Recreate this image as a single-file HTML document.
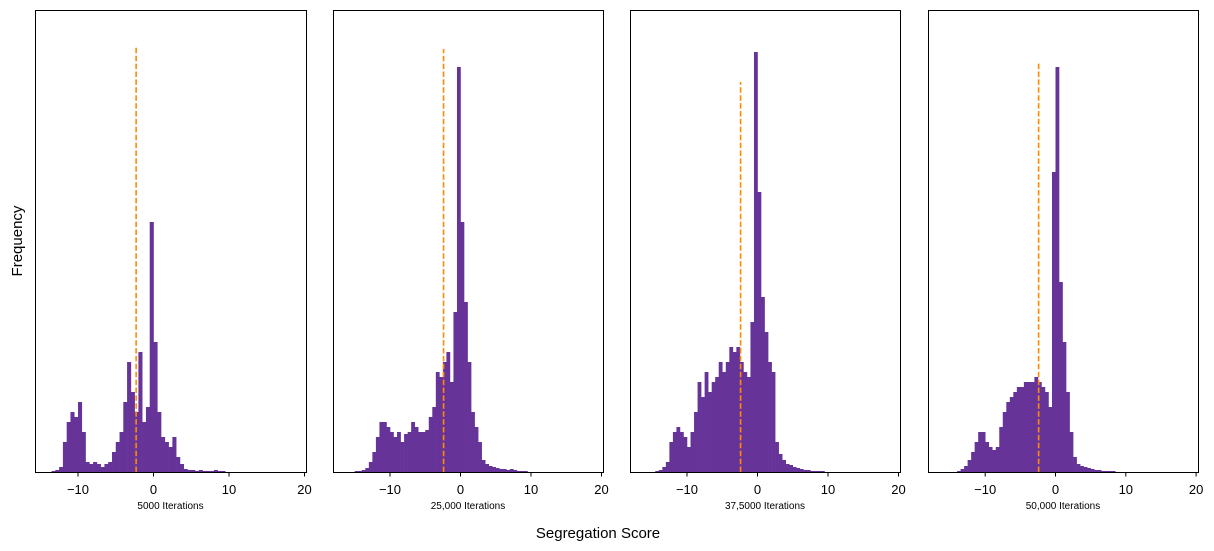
<!DOCTYPE html>
<html><head><meta charset="utf-8"><style>
body{margin:0;background:#fff;}
svg{display:block;font-family:"Liberation Sans","DejaVu Sans",sans-serif;}
</style></head><body>
<svg id="chart" width="1214" height="551" viewBox="0 0 1214 551">
<text x="22" y="241" font-size="15" text-anchor="middle" transform="rotate(-90 22 241)">Frequency</text>
<text x="598" y="538" font-size="15" text-anchor="middle">Segregation Score</text>
</svg>
<script>
const binStart = -15;
const binWidth = 0.5;
const counts5000 = [0,0,0,1,2,5,30,50,60,55,70,40,10,8,10,8,5,8,10,20,30,40,70,110,80,60,120,50,65,250,130,60,35,30,25,35,15,8,3,2,2,1,2,1,1,1,2,1,1,0];
const counts25000 = [1,1,2,4,10,20,35,50,50,45,40,35,40,30,38,40,50,45,40,40,42,55,65,100,95,110,120,90,160,405,250,170,110,60,45,30,12,8,6,5,4,3,3,2,3,2,1,1,1,0];
const counts37500 = [0,1,2,5,10,30,40,45,40,35,25,40,60,90,75,100,80,90,95,110,100,110,125,120,125,110,100,95,150,420,280,175,140,110,100,30,18,12,8,7,5,4,3,2,2,1,1,1,1,0];
const counts50000 = [0,0,1,3,6,12,20,30,40,40,30,25,22,25,45,60,70,75,80,85,85,90,90,90,95,90,85,80,65,300,405,190,130,80,40,15,8,6,5,4,3,2,2,1,1,1,1,0,0,0];
const meanLines = [-2.3, -2.4, -2.4, -2.4];
const meanHeights = [426, 423, 390, 410];
const panelLabels = ["5000 Iterations","25,000 Iterations","37,5000 Iterations","50,000 Iterations"];
const tickValues = [-10, 0, 10, 20];
const tickLabels = ["\u221210","0","10","20"];
const allCounts = [counts5000, counts25000, counts37500, counts50000];

const layout = [
  {left:35,right:306,zero:153.5,scale:7.55},
  {left:333,right:603,zero:460.5,scale:7.05},
  {left:630,right:900,zero:757.5,scale:7.05},
  {left:928,right:1198,zero:1055.5,scale:7.03}
];
const plotTop = 10, plotBase = 472;
const NS = "http://www.w3.org/2000/svg";
const svgEl = document.getElementById('chart');
function mk(tag, attrs){const e=document.createElementNS(NS,tag);for(const k in attrs)e.setAttribute(k,attrs[k]);return e;}

layout.forEach((L, p) => {
  const g = mk('g', {});
  
  
  svgEl.appendChild(g);
  const xs = v => L.zero + v * L.scale;
  const ys = c => plotBase - c;
  const counts = allCounts[p];
  counts.forEach((c, i) => {
    if (c <= 0) return;
    const x0 = xs(binStart + i * binWidth), x1 = xs(binStart + (i+1) * binWidth);
    const r = mk('rect', {x:x0, y:ys(c), width:x1-x0+0.3, height:c, fill:'#663399'});
    
    
    g.appendChild(r);
  });
  const mx = xs(meanLines[p]);
  const ml = mk('line', {x1:mx, x2:mx, y1:plotBase, y2:plotBase-meanHeights[p], stroke:'#ff8c00', 'stroke-width':1.6, 'stroke-dasharray':'5.5,2.4'});
  
  
  g.appendChild(ml);
  const fr = mk('rect', {x:L.left+0.5, y:plotTop+0.5, width:L.right-L.left, height:plotBase-plotTop, fill:'none', stroke:'#000', 'stroke-width':1});
  
  
  g.appendChild(fr);
  tickValues.forEach((t, k) => {
    const tx = xs(t);
    const tl = mk('line', {x1:tx, x2:tx, y1:plotBase+0.5, y2:plotBase+4.5, stroke:'#000', 'stroke-width':1});
    
    
    g.appendChild(tl);
    const tt = mk('text', {x:tx, y:494, 'font-size':13, 'text-anchor':'middle'});
    
    
    tt.textContent = tickLabels[k];
    g.appendChild(tt);
  });
  const lb = mk('text', {x:(L.left+L.right)/2, y:509, 'font-size':10, 'text-anchor':'middle'});
  
  
  lb.textContent = panelLabels[p];
  g.appendChild(lb);
});
</script>
</body></html>
